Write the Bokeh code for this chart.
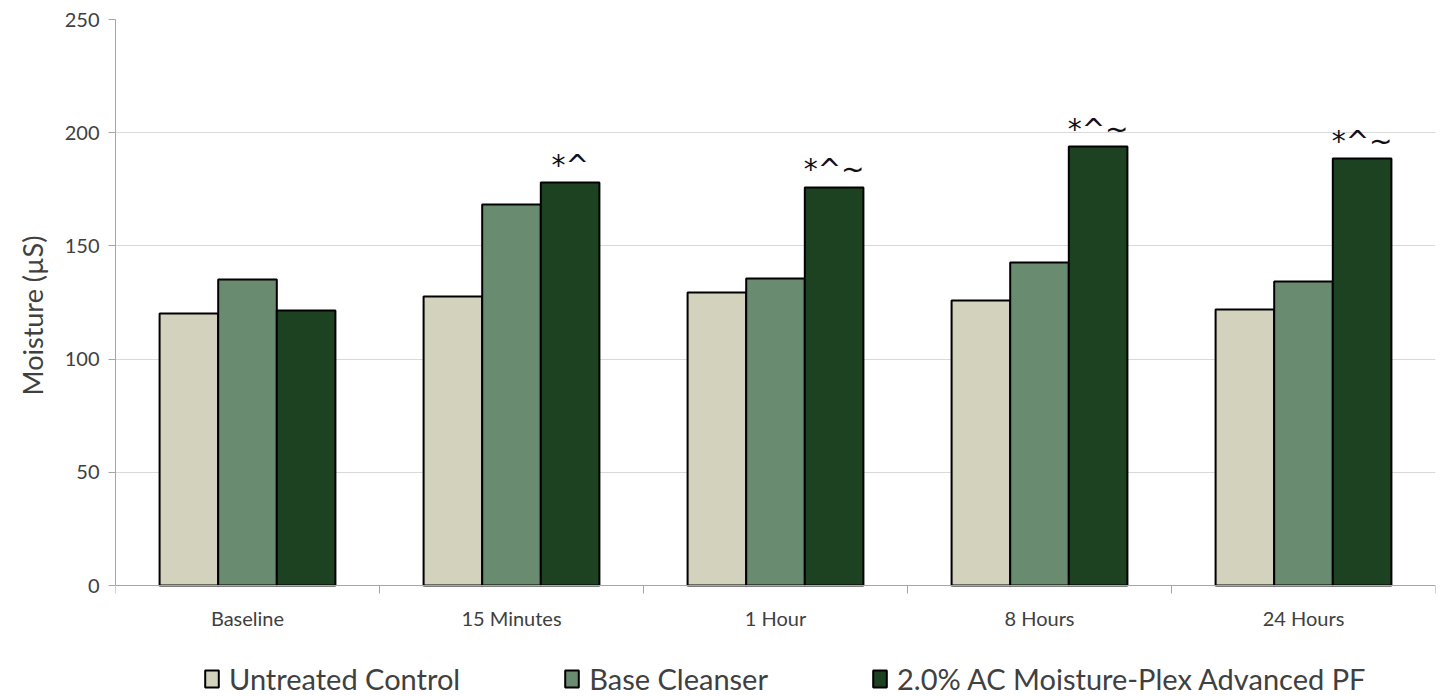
from bokeh.plotting import figure
from bokeh.models import FixedTicker, Legend, LegendItem, ColumnDataSource, Range1d, Title
from bokeh.core.properties import value
from bokeh.embed import file_html
from bokeh.resources import INLINE

categories = ["Baseline", "15 Minutes", "1 Hour", "8 Hours", "24 Hours"]
series_names = ["Untreated Control", "Base Cleanser", "2.0% AC Moisture-Plex Advanced PF"]
untreated = [120.1, 127.7, 129.4, 125.9, 121.9]
base = [135.2, 168.3, 135.6, 142.7, 134.3]
active = [121.5, 178.0, 175.8, 193.9, 188.6]
sig_labels = ["", "*^", "*^~", "*^~", "*^~"]
colors = ["#D2D2BD", "#698B6F", "#1D4221"]
y_ticks = [0, 50, 100, 150, 200, 250]
y_title = "Moisture (µS)"

FONT = "Lato"
n = len(categories)
centers = [i + 0.5 for i in range(n)]
bw = 0.222

# frame spans the legend area too; y=0 sits 111px above the bottom edge
Y_TOP = 250
Y_BOTTOM = -111 * Y_TOP / 566.0

p = figure(width=1440, height=696, output_backend="svg", toolbar_location=None,
           x_range=Range1d(0, n), y_range=Range1d(Y_BOTTOM, Y_TOP),
           min_border_left=115, min_border_right=5, min_border_top=19, min_border_bottom=0)
p.outline_line_color = None
p.background_fill_color = "white"

renderers = []
for k, (vals, col) in enumerate(zip([untreated, base, active], colors)):
    xs = [c + (k - 1) * bw for c in centers]
    src = ColumnDataSource(dict(x=xs, top=vals))
    r = p.vbar(x="x", top="top", width=bw, bottom=0, source=src,
               fill_color=col, line_color="black", line_width=2)
    renderers.append(r)

tsrc = ColumnDataSource(dict(x=[c + bw for c in centers], y=active, t=sig_labels))
p.text(x="x", y="y", text="t", source=tsrc, text_align="center", text_baseline="bottom",
       y_offset=-1, text_font=value("DejaVu Sans"), text_font_size="28px", text_color="#111111")

# x axis sits at y = 0 inside the frame
p.xaxis.fixed_location = 0
p.xaxis.ticker = FixedTicker(ticks=centers, minor_ticks=list(range(n + 1)))
p.xaxis.major_label_overrides = {c: cat for c, cat in zip(centers, categories)}
p.xaxis.major_tick_out = 0
p.xaxis.major_tick_in = 0
p.xaxis.minor_tick_out = 8
p.xaxis.minor_tick_in = 0
p.xaxis.minor_tick_line_color = "#a6a6a6"
p.xaxis.axis_line_color = "#a6a6a6"
p.xaxis.major_label_text_font = FONT
p.xaxis.major_label_text_font_size = "20px"
p.xaxis.major_label_text_color = "#404040"
p.xaxis.major_label_standoff = 12

p.yaxis.bounds = (0, Y_TOP)
p.yaxis.ticker = FixedTicker(ticks=y_ticks, minor_ticks=[])
p.yaxis.major_tick_out = 7
p.yaxis.major_tick_in = 0
p.yaxis.major_tick_line_color = "#a6a6a6"
p.yaxis.axis_line_color = "#a6a6a6"
p.yaxis.major_label_text_font = FONT
p.yaxis.major_label_text_font_size = "20px"
p.yaxis.major_label_text_color = "#404040"
p.yaxis.major_label_standoff = 9

# y axis title, placed alongside the 0..250 span
ytitle = Title(text=y_title, align="left", offset=301, standoff=26,
               text_font=FONT, text_font_size="27px", text_font_style="normal",
               text_color="#404040")
p.add_layout(ytitle, "left")

p.xgrid.grid_line_color = None
p.ygrid.grid_line_color = "#d9d9d9"
p.ygrid.ticker = FixedTicker(ticks=y_ticks)

legend = Legend(items=[LegendItem(label=nm, renderers=[r]) for nm, r in zip(series_names, renderers)],
                orientation="horizontal", location=(88, 0),
                label_text_font=FONT, label_text_font_size="29px", label_text_color="#404040",
                glyph_width=17, glyph_height=21, label_standoff=9, spacing=103,
                border_line_color=None, background_fill_alpha=0, margin=0, padding=0)
p.add_layout(legend, "center")

open("out.html", "w").write(file_html(p, INLINE))
